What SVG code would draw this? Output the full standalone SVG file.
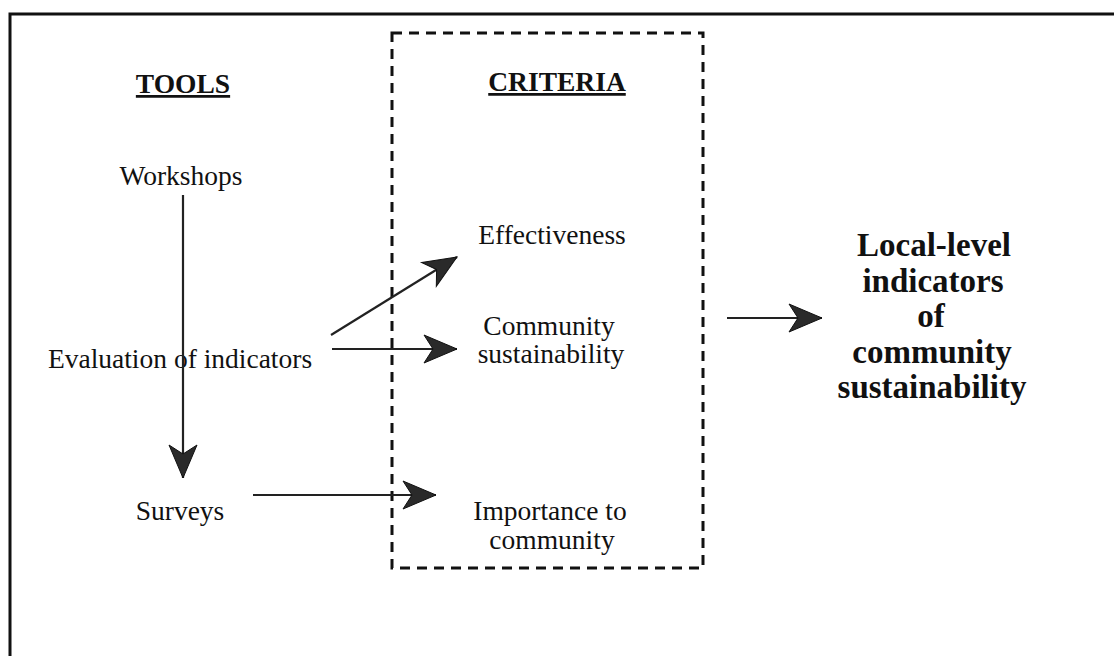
<svg xmlns="http://www.w3.org/2000/svg" width="1114" height="656" viewBox="0 0 1114 656">
  <style>
    .t { font-family: "Liberation Serif", "Times New Roman", serif; font-size: 27.5px; fill: #111; text-anchor: middle; }
    .h { font-family: "Liberation Serif", "Times New Roman", serif; font-size: 27.5px; font-weight: bold; fill: #111; text-anchor: middle; text-decoration: underline; }
    .b { font-family: "Liberation Serif", "Times New Roman", serif; font-size: 33px; font-weight: bold; fill: #111; text-anchor: middle; }
    .conn { stroke: #222; stroke-width: 2.2; fill: none; marker-end: url(#head); }
    .frame { stroke: #111; stroke-width: 3; fill: none; }
    .dash { stroke: #111; stroke-width: 3; fill: none; stroke-dasharray: 10 7; }
  </style>
  <defs>
    <marker id="head" markerUnits="userSpaceOnUse" orient="auto" refX="0" refY="0" markerWidth="40" markerHeight="30" overflow="visible">
      <path d="M 0 0 L -33 -14 L -24 0 L -33 14 Z" fill="#2a2a2a" stroke="#111" stroke-width="1"/>
    </marker>
  </defs>
  <rect width="1114" height="656" fill="#ffffff"/>
  <g id="frame">
    <path class="frame" d="M 10 656 L 10 14 L 1114 14"/>
  </g>
  <g id="criteria-box">
    <rect class="dash" x="392" y="33" width="311" height="535"/>
  </g>
  <g id="tools-header"><text class="h" x="183" y="93">TOOLS</text></g>
  <g id="criteria-header"><text class="h" x="557" y="91">CRITERIA</text></g>
  <g id="workshops"><text class="t" x="181" y="185">Workshops</text></g>
  <g id="evaluation"><text class="t" x="180" y="368">Evaluation of indicators</text></g>
  <g id="surveys"><text class="t" x="180" y="520">Surveys</text></g>
  <g id="effectiveness"><text class="t" x="552" y="244">Effectiveness</text></g>
  <g id="community-sustainability">
    <text class="t" x="549" y="335">Community</text>
    <text class="t" x="551" y="363">sustainability</text>
  </g>
  <g id="importance">
    <text class="t" x="550" y="520">Importance to</text>
    <text class="t" x="552" y="549">community</text>
  </g>
  <g id="result">
    <text class="b" x="934" y="256">Local-level</text>
    <text class="b" x="933" y="291.5">indicators</text>
    <text class="b" x="931" y="327">of</text>
    <text class="b" x="932" y="362.5">community</text>
    <text class="b" x="932" y="398">sustainability</text>
  </g>
  <g id="connectors">
    <line class="conn" x1="183" y1="195" x2="183" y2="478"/>
    <line class="conn" x1="331" y1="335" x2="457" y2="257"/>
    <line class="conn" x1="332" y1="349" x2="457" y2="349"/>
    <line class="conn" x1="253" y1="495" x2="436" y2="495"/>
    <line class="conn" x1="727" y1="318" x2="822" y2="318"/>
  </g>
</svg>
